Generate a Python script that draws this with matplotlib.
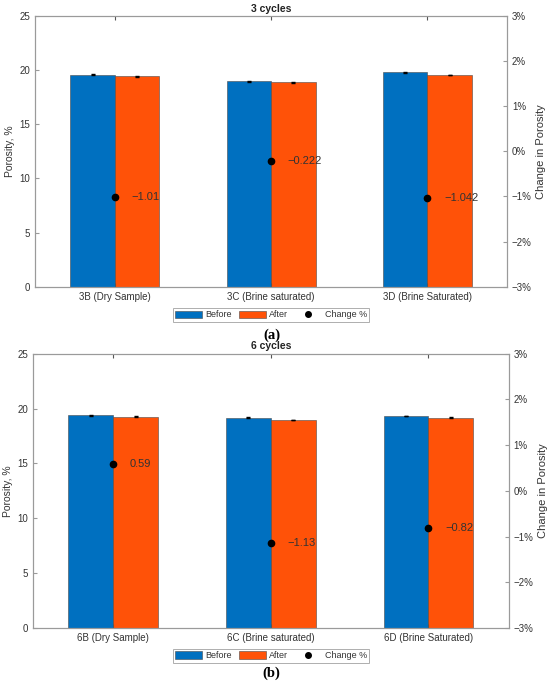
import matplotlib.pyplot as plt
from matplotlib.patches import Patch
from matplotlib.lines import Line2D
import numpy as np

plt.rcParams['font.family'] = ['Liberation Sans', 'DejaVu Sans']

labels_3 = ['3B (Dry Sample)', '3C (Brine saturated)', '3D (Brine Saturated)']
before_3 = [19.58, 18.94, 19.77]
after_3 = [19.40, 18.88, 19.53]
change_3 = [-1.01, -0.222, -1.042]
change_3_text = ['\u22121.01', '\u22120.222', '\u22121.042']

labels_6 = ['6B (Dry Sample)', '6C (Brine saturated)', '6D (Brine Saturated)']
before_6 = [19.37, 19.16, 19.32]
after_6 = [19.25, 18.95, 19.16]
change_6 = [0.59, -1.13, -0.82]
change_6_text = ['0.59', '\u22121.13', '\u22120.82']

err = 0.04
blue = '#0070C0'
orange = '#FF5208'
spine_col = '#9a9a9a'
text_col = '#333333'


def draw_panel(rect, title, labels, before, after, change, change_text, leg_y, letter, letter_y):
    ax = fig.add_axes(rect)
    x = np.arange(1, len(labels) + 1)
    w = 0.285
    ax.bar(x - w / 2, before, w, color=blue, edgecolor='#4a4a4a', linewidth=0.4)
    ax.bar(x + w / 2, after, w, color=orange, edgecolor='#4a4a4a', linewidth=0.4)
    ax.errorbar(x - w / 2, before, yerr=err, fmt='none', ecolor='black', elinewidth=0.7, capsize=1.3)
    ax.errorbar(x + w / 2, after, yerr=err, fmt='none', ecolor='black', elinewidth=0.7, capsize=1.3)
    ax.set_xlim(0.49, 3.51)
    ax.set_ylim(0, 25)
    ax.set_xticks(x)
    ax.set_xticklabels(labels, fontsize=7, color=text_col)
    ax.set_yticks([0, 5, 10, 15, 20, 25])
    ax.tick_params(axis='y', labelsize=7, labelcolor=text_col, direction='in', length=3, color=spine_col)
    ax.tick_params(axis='x', direction='in', length=3, color='#555555', top=True)
    ax.set_ylabel('Porosity, %', fontsize=7.5, color=text_col, labelpad=3)
    ax.set_title(title, fontsize=7.5, fontweight='bold', color='#222222', pad=3)
    for s in ax.spines.values():
        s.set_color(spine_col)
        s.set_linewidth(0.8)

    ax2 = ax.twinx()
    ax2.set_ylim(-3, 3)
    ax2.plot(x, change, 'o', color='black', ms=4.5, zorder=5)
    for xi, yi, t in zip(x, change, change_text):
        ax2.annotate(t, (xi, yi), xytext=(12, 0), textcoords='offset points',
                     va='center', ha='left', fontsize=8, color=text_col)
    ax2.set_yticks([-3, -2, -1, 0, 1, 2, 3])
    ax2.set_yticklabels(['\u22123%', '\u22122%', '\u22121%', '0%', '1%', '2%', '3%'])
    ax2.tick_params(axis='y', labelsize=7, labelcolor=text_col, direction='in', length=3, color=spine_col)
    ax2.set_ylabel('Change in Porosity', fontsize=8, color=text_col, labelpad=3)
    for s in ax2.spines.values():
        s.set_color(spine_col)
        s.set_linewidth(0.8)

    handles = [Patch(facecolor=blue, edgecolor='#4a4a4a', linewidth=0.4),
               Patch(facecolor=orange, edgecolor='#4a4a4a', linewidth=0.4),
               Line2D([], [], marker='o', color='black', ls='none', ms=4)]
    leg = fig.legend(handles, ['Before', 'After', 'Change %'], loc='center',
                     bbox_to_anchor=(0.493, leg_y), ncol=3, fontsize=6.5, frameon=True,
                     fancybox=False, edgecolor=spine_col, handlelength=3.0, handleheight=0.9,
                     columnspacing=0.8, handletextpad=0.3, borderpad=0.25, labelcolor=text_col)
    leg.get_frame().set_linewidth(0.7)
    fig.text(0.494, letter_y, letter, ha='center', va='center', fontsize=10.5,
             family=['Liberation Serif', 'DejaVu Serif'], fontweight='bold', color='black')


fig = plt.figure(figsize=(5.5, 6.86), dpi=100)
draw_panel([0.064, 0.582, 0.858, 0.395], '3 cycles', labels_3, before_3, after_3,
           change_3, change_3_text, 0.541, '(a)', 0.512)
draw_panel([0.060, 0.0845, 0.865, 0.4], '6 cycles', labels_6, before_6, after_6,
           change_6, change_6_text, 0.044, '(b)', 0.019)

fig.savefig('out.png', dpi=100)
